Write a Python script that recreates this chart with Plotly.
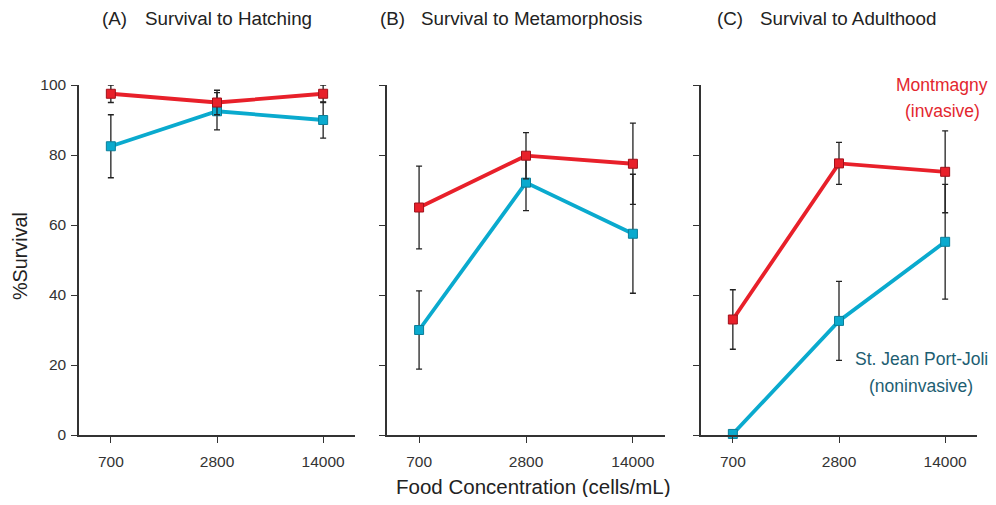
import plotly.graph_objects as go

categories = ["700", "2800", "14000"]
panel_labels = ["(A)", "(B)", "(C)"]
panel_titles = ["Survival to Hatching", "Survival to Metamorphosis", "Survival to Adulthood"]

# Montmagny (invasive)
mont_vals = [[97.5, 95.0, 97.5], [65.0, 79.8, 77.5], [33.0, 77.6, 75.2]]
mont_err = [[2.5, 3.5, 2.5], [11.8, 6.6, 11.6], [8.5, 6.0, 11.7]]
# St. Jean Port-Joli (noninvasive)
stj_vals = [[82.5, 92.5, 90.0], [30.0, 72.1, 57.5], [0.3, 32.6, 55.2]]
stj_err = [[9.0, 5.3, 5.2], [11.2, 8.0, 17.0], [0.0, 11.3, 16.4]]

y_ticks = [0, 20, 40, 60, 80, 100]

RED = "#e8202a"
BLUE = "#0aaace"
AX = "#333333"
FONT = "Liberation Sans, Arial, sans-serif"

OFF = 8                      # page body margin
W, H = 996 - 2 * OFF, 505 - 2 * OFF
PL, PR, PT, PB = 79, 977, 85, 435   # plot area in page pixels
ML, MT = PL - OFF, PT - OFF
PW, PH = PR - PL, PB - PT
MR, MB = W - ML - PW, H - MT - PH

def px(p):
    return (p - PL) / PW

def py(p):
    return (PB - p) / PH

domains = [(79, 355), (387, 665), (701, 977)]

fig = go.Figure()
for i in range(3):
    xa = "x" if i == 0 else f"x{i+1}"
    ya = "y" if i == 0 else f"y{i+1}"
    for vals, err, col, edge in [(stj_vals, stj_err, BLUE, "#0a7f9a"), (mont_vals, mont_err, RED, "#a0101a")]:
        fig.add_trace(go.Scatter(
            x=categories, y=vals[i], xaxis=xa, yaxis=ya,
            mode="lines+markers",
            line=dict(color=col, width=3.8),
            marker=dict(symbol="square", size=9, color=col, line=dict(color=edge, width=1)),
            error_y=dict(type="data", array=err[i], visible=True, color="#222222", thickness=1.3, width=3),
            cliponaxis=False, showlegend=False,
        ))
    d0, d1 = domains[i]
    fig.update_layout(**{
        ("xaxis" if i == 0 else f"xaxis{i+1}"): dict(
            domain=[px(d0), px(d1)], type="category", categoryorder="array", categoryarray=categories,
            range=[-0.3, 2.3], showline=True, linecolor=AX, linewidth=1.5,
            ticks="outside", ticklen=6, tickcolor=AX, tickwidth=1.2, ticklabelstandoff=6,
            showgrid=False, zeroline=False, anchor=ya,
            tickfont=dict(size=15.5, color=AX, family=FONT),
        ),
        ("yaxis" if i == 0 else f"yaxis{i+1}"): dict(
            range=[0, 100], tickvals=y_ticks, showticklabels=(i == 0),
            showline=True, linecolor=AX, linewidth=1.5,
            ticks="outside", ticklen=6, tickcolor=AX, tickwidth=1.2, ticklabelstandoff=2,
            showgrid=False, zeroline=False, anchor=xa,
            tickfont=dict(size=15.5, color=AX, family=FONT),
        ),
    })

ann = []
label_left = [100, 378, 715]
title_left = [143, 419, 758]
for lab, t, xl, xt in zip(panel_labels, panel_titles, label_left, title_left):
    for txt, xx in [(lab, xl), (t, xt)]:
        ann.append(dict(text=txt, x=px(xx), y=py(19), xref="paper", yref="paper",
                        xanchor="left", yanchor="middle", showarrow=False,
                        font=dict(size=18.8, color="#222222", family=FONT)))
for txt, cx, cy, col in [("Montmagny", 942, 85, "#e3262e"), ("(invasive)", 942, 111, "#e3262e"),
                         ("St. Jean Port-Joli", 921, 359, "#1d5e72"), ("(noninvasive)", 921, 386, "#1d5e72")]:
    ann.append(dict(text=txt, x=px(cx), y=py(cy), xref="paper", yref="paper",
                    xanchor="center", yanchor="middle", showarrow=False,
                    font=dict(size=17.5, color=col, family=FONT)))
ann.append(dict(text="Food Concentration (cells/mL)", x=px(533), y=py(486),
                xref="paper", yref="paper", xanchor="center", yanchor="middle", showarrow=False,
                font=dict(size=20.5, color="#222222", family=FONT)))
ann.append(dict(text="%Survival", x=px(20), y=py(256),
                xref="paper", yref="paper", xanchor="center", yanchor="middle", showarrow=False,
                textangle=-90, font=dict(size=19.8, color="#222222", family=FONT)))

fig.update_layout(
    width=W, height=H, margin=dict(l=ML, r=MR, t=MT, b=MB),
    paper_bgcolor="white", plot_bgcolor="white",
    font=dict(family=FONT, color="#222222"),
    annotations=ann,
)

fig.write_html("out.html")
